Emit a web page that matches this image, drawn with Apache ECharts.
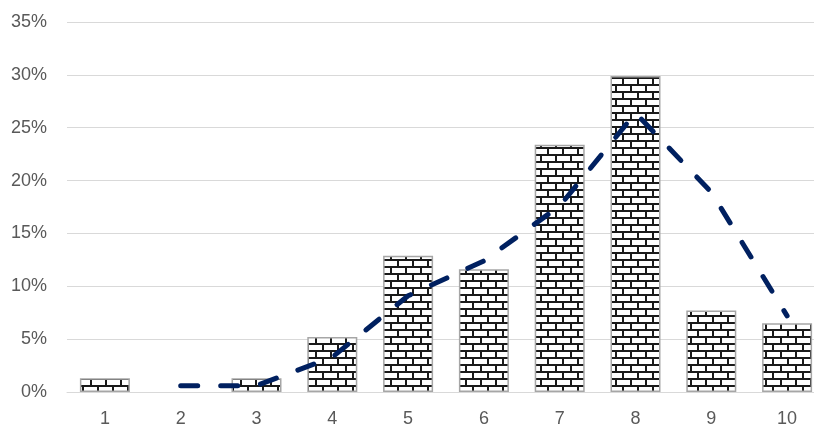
<!DOCTYPE html>
<html>
<head>
<meta charset="utf-8">
<script src="https://cdn.jsdelivr.net/npm/echarts@6/dist/echarts.min.js"></script>
<style>
html,body{margin:0;padding:0;background:#fff;overflow:hidden;width:814px;height:428px;}
#chart{width:825px;height:428px;}
</style>
</head>
<body>
<div id="chart"></div>
<script>
const categories = ['1','2','3','4','5','6','7','8','9','10'];
const barValues = [0.013, 0, 0.013, 0.052, 0.129, 0.116, 0.234, 0.299, 0.077, 0.065];
const lineValues = [null, 0.006, 0.006, 0.033, 0.091, 0.124, 0.176, 0.264, 0.189, 0.072];
const yTicks = { min: 0, max: 0.35, interval: 0.05 };

function brickPattern() {
  const c = document.createElement('canvas');
  c.width = 15; c.height = 14;
  const ctx = c.getContext('2d');
  ctx.fillStyle = '#ffffff';
  ctx.fillRect(0, 0, 15, 14);
  ctx.fillStyle = '#1a1a1a';
  ctx.fillRect(0, 0, 15, 2);
  ctx.fillRect(0, 7, 15, 2);
  ctx.fillRect(0, 0, 2, 7);
  ctx.fillRect(7, 7, 2, 7);
  return c;
}

const chart = echarts.init(document.getElementById('chart'), null, { renderer: 'canvas' });
const labelFont = { color: '#595959', fontSize: 18, fontFamily: 'Liberation Sans, Arial, sans-serif' };

chart.setOption({
  animation: false,
  backgroundColor: '#ffffff',
  grid: { left: 67, top: 22, bottom: 35, right: 0, containLabel: false },
  xAxis: {
    type: 'category',
    data: categories,
    axisTick: { show: false },
    axisLine: { show: true, lineStyle: { color: '#d9d9d9', width: 1 } },
    axisLabel: Object.assign({ margin: 18 }, labelFont)
  },
  yAxis: {
    type: 'value',
    min: yTicks.min, max: yTicks.max, interval: yTicks.interval,
    axisLine: { show: false },
    axisTick: { show: false },
    splitLine: { lineStyle: { color: '#d9d9d9', width: 1 } },
    axisLabel: Object.assign({
      margin: 20,
      formatter: v => Math.round(v * 100) + '%'
    }, labelFont)
  },
  series: [
    {
      type: 'bar',
      data: barValues.map(v => (v === 0 ? null : v)),
      barWidth: 50,
      itemStyle: {
        color: { image: brickPattern(), repeat: 'repeat' },
        borderColor: '#a6a6a6',
        borderWidth: 1.5
      },
      z: 2
    },
    {
      type: 'line',
      data: lineValues,
      symbol: 'none',
      connectNulls: false,
      lineStyle: { color: '#002060', width: 5, type: [17, 23], cap: 'round' },
      z: 3
    }
  ]
});
</script>
</body>
</html>
